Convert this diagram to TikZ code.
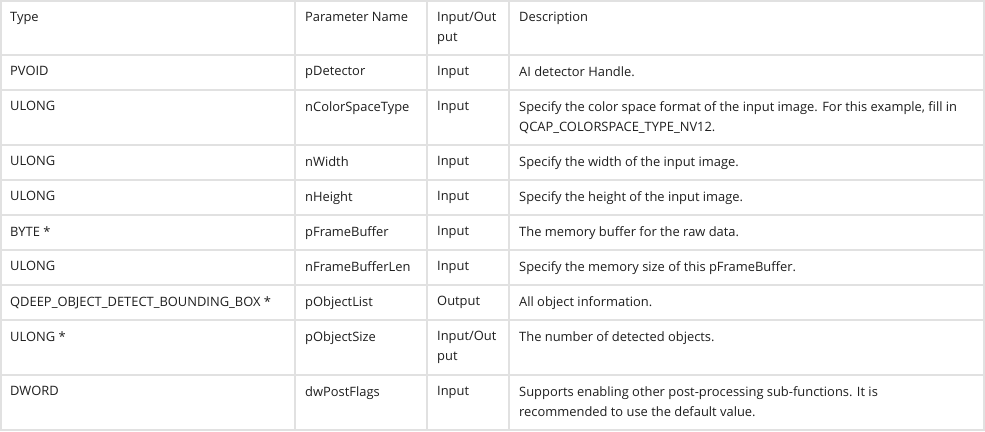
\documentclass[tikz,border=0pt]{standalone}
\usepackage{fontspec}
\setmainfont{Open Sans}
\definecolor{gridgray}{HTML}{E1E1E1}
\definecolor{txtgray}{HTML}{1E1E1E}
\begin{document}
\begin{tikzpicture}[x=1pt,y=-1pt,
  cell/.style={anchor=north west, inner sep=0pt, text=txtgray,
    font=\fontsize{12.9}{20}\selectfont, align=left},
  grid/.style={draw=gridgray, line width=1.2pt}]

% Limiti
\useasboundingbox (0,0) rectangle (985,431);

% Righe orizzontali
\foreach \y in {1,55,90,145,180,215,250,285,320,375,430} {
    \draw[grid] (0,\y) -- (985,\y);
}
% Colonne
\foreach \x in {1,295,427,509,984} {
    \draw[grid] (\x,1) -- (\x,430);
}

% Intestazione
\node[cell] (h1) at (10,12) {Type};
\node[cell] (h2) at (305,12) {Parameter Name};
\node[cell, text width=70] (h3) at (437,12) {Input/Out\\put};
\node[cell] (h4) at (519,12) {Description};

% Contenuto delle righe
\foreach \r/\y/\ty/\pn/\io/\de in {
    1/66/{PVOID}/{pDetector}/{Input}/{AI detector Handle.},
    2/101/{ULONG}/{nColorSpaceType}/{Input}/{Specify the color space format of the input image. For this example, fill in\\QCAP\_COLORSPACE\_TYPE\_NV12.},
    3/156/{ULONG}/{nWidth}/{Input}/{Specify the width of the input image.},
    4/191/{ULONG}/{nHeight}/{Input}/{Specify the height of the input image.},
    5/226/{BYTE *}/{pFrameBuffer}/{Input}/{The memory buffer for the raw data.},
    6/261/{ULONG}/{nFrameBufferLen}/{Input}/{Specify the memory size of this pFrameBuffer.},
    7/296/{QDEEP\_OBJECT\_DETECT\_BOUNDING\_BOX *}/{pObjectList}/{Output}/{All object information.},
    8/331/{ULONG *}/{pObjectSize}/{Input/Out\\put}/{The number of detected objects.},
    9/386/{DWORD}/{dwPostFlags}/{Input}/{Supports enabling other post-processing sub-functions. It is\\recommended to use the default value.}} {
    \node[cell] (t\r) at (10,\y) {\ty};
    \node[cell] (p\r) at (305,\y) {\pn};
    \node[cell] (i\r) at (437,\y) {\io};
    \node[cell] (d\r) at (519,\y) {\de};
}
\end{tikzpicture}
\end{document}
